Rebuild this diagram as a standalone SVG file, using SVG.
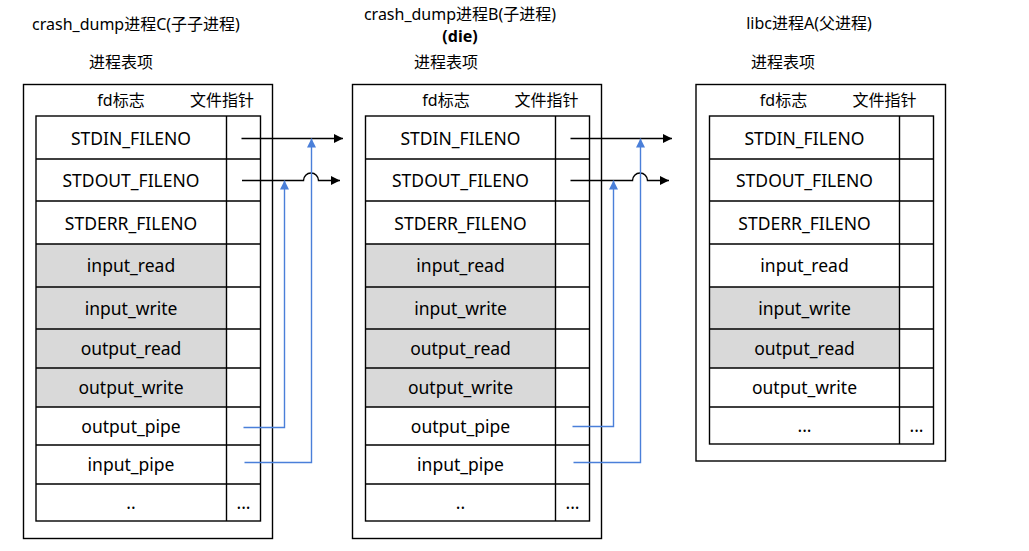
<svg xmlns="http://www.w3.org/2000/svg" width="1029" height="551" viewBox="0 0 1029 551">
<defs>
<style>
text{font-family:"Noto Sans","Noto Sans CJK SC",sans-serif;fill:#000;text-anchor:middle}
.t{font-size:16px}
.c{font-size:17.5px}
.b{font-weight:bold}
.box{fill:#fff;stroke:#000;stroke-width:1.4}
.ln{stroke:#000;stroke-width:1.4;fill:none}
.g{fill:#d9d9d9}
.k{stroke:#000;stroke-width:1.4;fill:none}
.bl{stroke:#4a7fd9;stroke-width:1.4;fill:none}
</style>
<marker id="ak" markerUnits="userSpaceOnUse" markerWidth="10" markerHeight="10" refX="9" refY="4.5" orient="auto"><path d="M0,0 L9,4.5 L0,9 z" fill="#000"/></marker>
<marker id="ab" markerUnits="userSpaceOnUse" markerWidth="10" markerHeight="10" refX="9" refY="4.5" orient="auto"><path d="M0,0 L9,4.5 L0,9 z" fill="#4a7fd9"/></marker>
</defs>
<rect width="1029" height="551" fill="#fff"/>

<g id="procC">
<text class="t" x="136" y="30">crash_dump进程C(子子进程)</text>
<text class="t" x="121" y="68">进程表项</text>
<rect class="box" x="23.5" y="84.5" width="249" height="454"/>
<text class="t" x="121" y="106">fd标志</text>
<text class="t" x="222" y="106">文件指针</text>
<rect class="g" x="36" y="244" width="190.5" height="163"/>
<rect class="box" x="36" y="116" width="224.5" height="405" style="fill:none"/>
<path class="ln" d="M226.5,116V521M36,159H260.5M36,201H260.5M36,244H260.5M36,287H260.5M36,329H260.5M36,368H260.5M36,407H260.5M36,445H260.5M36,484H260.5"/>
<text class="c" x="131" y="145">STDIN_FILENO</text>
<text class="c" x="131" y="187">STDOUT_FILENO</text>
<text class="c" x="131" y="229.5">STDERR_FILENO</text>
<text class="c" x="131" y="272">input_read</text>
<text class="c" x="131" y="314.5">input_write</text>
<text class="c" x="131" y="355">output_read</text>
<text class="c" x="131" y="394">output_write</text>
<text class="c" x="131" y="432.5">output_pipe</text>
<text class="c" x="131" y="471">input_pipe</text>
<text class="c" x="131" y="509">..</text>
<text class="c" x="243.5" y="509">...</text>
</g>

<g id="procB">
<text class="t" x="460" y="20">crash_dump进程B(子进程)</text>
<text class="t b" x="460" y="42">(die)</text>
<text class="t" x="446" y="68">进程表项</text>
<rect class="box" x="352.5" y="84.5" width="249" height="454"/>
<text class="t" x="446" y="106">fd标志</text>
<text class="t" x="546.5" y="106">文件指针</text>
<rect class="g" x="365.5" y="244" width="190" height="163"/>
<rect class="box" x="365.5" y="116" width="224" height="405" style="fill:none"/>
<path class="ln" d="M555.5,116V521M365.5,159H589.5M365.5,201H589.5M365.5,244H589.5M365.5,287H589.5M365.5,329H589.5M365.5,368H589.5M365.5,407H589.5M365.5,445H589.5M365.5,484H589.5"/>
<text class="c" x="460.5" y="145">STDIN_FILENO</text>
<text class="c" x="460.5" y="187">STDOUT_FILENO</text>
<text class="c" x="460.5" y="229.5">STDERR_FILENO</text>
<text class="c" x="460.5" y="272">input_read</text>
<text class="c" x="460.5" y="314.5">input_write</text>
<text class="c" x="460.5" y="355">output_read</text>
<text class="c" x="460.5" y="394">output_write</text>
<text class="c" x="460.5" y="432.5">output_pipe</text>
<text class="c" x="460.5" y="471">input_pipe</text>
<text class="c" x="460.5" y="509">..</text>
<text class="c" x="572.5" y="509">...</text>
</g>

<g id="procA">
<text class="t" x="809" y="29">libc进程A(父进程)</text>
<text class="t" x="783" y="68">进程表项</text>
<rect class="box" x="696" y="84.5" width="249.5" height="376.5"/>
<text class="t" x="783.5" y="106">fd标志</text>
<text class="t" x="884.5" y="106">文件指针</text>
<rect class="g" x="709.5" y="287" width="190" height="81"/>
<rect class="box" x="709.5" y="116" width="224" height="328" style="fill:none"/>
<path class="ln" d="M899.5,116V444M709.5,159H933.5M709.5,201H933.5M709.5,244H933.5M709.5,287H933.5M709.5,329H933.5M709.5,368H933.5M709.5,407H933.5"/>
<text class="c" x="804.5" y="145">STDIN_FILENO</text>
<text class="c" x="804.5" y="187">STDOUT_FILENO</text>
<text class="c" x="804.5" y="229.5">STDERR_FILENO</text>
<text class="c" x="804.5" y="272">input_read</text>
<text class="c" x="804.5" y="314.5">input_write</text>
<text class="c" x="804.5" y="355">output_read</text>
<text class="c" x="804.5" y="394">output_write</text>
<text class="c" x="804.5" y="431.5">...</text>
<text class="c" x="916.5" y="431.5">...</text>
</g>

<g id="connectors">
<path class="k" d="M241.5,138.5H343" marker-end="url(#ak)"/>
<path class="k" d="M242,180.5H303.5A7.5,7.5 0 0 1 318.5,180.5H340" marker-end="url(#ak)"/>
<path class="bl" d="M243.5,427.5H284.5V180.5" marker-end="url(#ab)"/>
<path class="bl" d="M244.5,462.5H311.5V138.5" marker-end="url(#ab)"/>
<path class="k" d="M570.5,138.5H672" marker-end="url(#ak)"/>
<path class="k" d="M570.5,180.5H632.5A7.5,7.5 0 0 1 647.5,180.5H669" marker-end="url(#ak)"/>
<path class="bl" d="M572.5,426.5H613.5V180.5" marker-end="url(#ab)"/>
<path class="bl" d="M573.5,462.5H640.5V138.5" marker-end="url(#ab)"/>
</g>
</svg>
